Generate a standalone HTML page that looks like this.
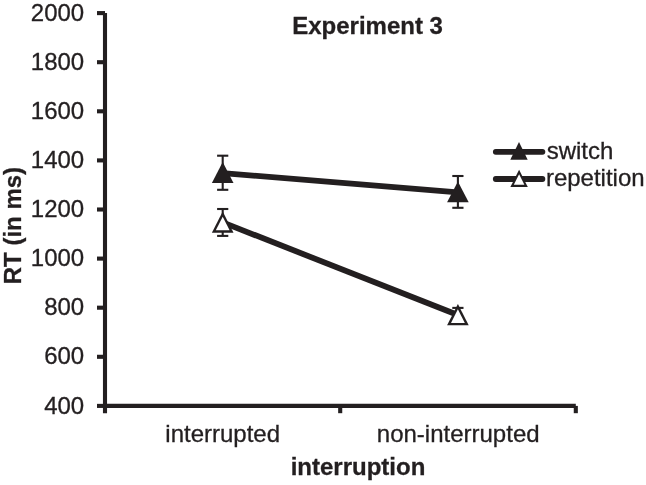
<!DOCTYPE html>
<html><head><meta charset="utf-8"><title>Experiment 3</title>
<style>
html,body{margin:0;padding:0;background:#fff;}
svg{display:block;}
.t{font-family:"Liberation Sans",Arial,sans-serif;font-size:24px;fill:#231f20;stroke:#231f20;stroke-width:0.3px;}
.b{font-weight:bold;}
.ax{stroke:#231f20;stroke-width:4.1;}
.eb{stroke:#231f20;stroke-width:2.1;}
.dl{stroke:#231f20;stroke-width:5.8;}
</style></head><body>
<svg width="646" height="485" viewBox="0 0 646 485">
<text x="84.2" y="20.70" text-anchor="end" class="t">2000</text>
<text x="84.2" y="69.80" text-anchor="end" class="t">1800</text>
<text x="84.2" y="118.90" text-anchor="end" class="t">1600</text>
<text x="84.2" y="168.00" text-anchor="end" class="t">1400</text>
<text x="84.2" y="217.10" text-anchor="end" class="t">1200</text>
<text x="84.2" y="266.20" text-anchor="end" class="t">1000</text>
<text x="84.2" y="315.30" text-anchor="end" class="t">800</text>
<text x="84.2" y="364.40" text-anchor="end" class="t">600</text>
<text x="84.2" y="413.50" text-anchor="end" class="t">400</text>
<line x1="97" y1="13.10" x2="105" y2="13.10" class="ax"/>
<line x1="97" y1="62.20" x2="105" y2="62.20" class="ax"/>
<line x1="97" y1="111.30" x2="105" y2="111.30" class="ax"/>
<line x1="97" y1="160.40" x2="105" y2="160.40" class="ax"/>
<line x1="97" y1="209.50" x2="105" y2="209.50" class="ax"/>
<line x1="97" y1="258.60" x2="105" y2="258.60" class="ax"/>
<line x1="97" y1="307.70" x2="105" y2="307.70" class="ax"/>
<line x1="97" y1="356.80" x2="105" y2="356.80" class="ax"/>
<line x1="97" y1="405.90" x2="105" y2="405.90" class="ax"/>
<line x1="105" y1="13.1" x2="105" y2="413.2" class="ax"/>
<line x1="105" y1="405.90" x2="575.8" y2="405.90" class="ax"/>
<line x1="340.2" y1="405.90" x2="340.2" y2="413.2" class="ax"/>
<line x1="575.8" y1="405.90" x2="575.8" y2="413.2" class="ax"/>
<line x1="222.7" y1="155.7" x2="222.7" y2="189.8" class="eb"/><line x1="217.1" y1="155.7" x2="228.3" y2="155.7" class="eb"/><line x1="217.1" y1="189.8" x2="228.3" y2="189.8" class="eb"/>
<line x1="457.9" y1="176.0" x2="457.9" y2="207.8" class="eb"/><line x1="452.3" y1="176.0" x2="463.5" y2="176.0" class="eb"/><line x1="452.3" y1="207.8" x2="463.5" y2="207.8" class="eb"/>
<line x1="222.7" y1="209.0" x2="222.7" y2="235.9" class="eb"/><line x1="217.1" y1="209.0" x2="228.3" y2="209.0" class="eb"/><line x1="217.1" y1="235.9" x2="228.3" y2="235.9" class="eb"/>
<line x1="457.9" y1="307.9" x2="457.9" y2="322.1" class="eb"/><line x1="452.3" y1="307.9" x2="463.5" y2="307.9" class="eb"/><line x1="452.3" y1="322.1" x2="463.5" y2="322.1" class="eb"/>
<line x1="222.7" y1="173.1" x2="457.9" y2="192.4" class="dl"/>
<line x1="222.7" y1="222.4" x2="457.9" y2="315.0" class="dl"/>
<polygon points="222.70,162.10 211.90,182.90 233.50,182.90" fill="#231f20"/>
<polygon points="457.90,181.40 447.10,202.20 468.70,202.20" fill="#231f20"/>
<polygon points="222.70,211.40 211.90,232.70 233.50,232.70" fill="#231f20"/><polygon points="222.70,216.71 215.81,230.30 229.59,230.30" fill="#fff"/>
<polygon points="457.90,304.00 447.10,325.30 468.70,325.30" fill="#231f20"/><polygon points="457.90,309.31 451.01,322.90 464.79,322.90" fill="#fff"/>
<line x1="495.8" y1="151.8" x2="542.4" y2="151.8" class="dl" stroke-linecap="round"/>
<line x1="495.8" y1="179.0" x2="542.4" y2="179.0" class="dl" stroke-linecap="round"/>
<polygon points="519.00,142.10 510.30,159.80 527.70,159.80" fill="#231f20"/>
<polygon points="519.10,169.70 510.40,186.90 527.80,186.90" fill="#231f20"/><polygon points="519.10,174.35 513.82,184.80 524.38,184.80" fill="#fff"/>
<text x="546.7" y="159.2" class="t">switch</text>
<text x="545.9" y="186.4" class="t">repetition</text>
<text x="292.2" y="33.5" class="t b">Experiment 3</text>
<text x="222.7" y="442.1" text-anchor="middle" class="t">interrupted</text>
<text x="458.2" y="442.1" text-anchor="middle" class="t">non-interrupted</text>
<text x="358" y="475.3" text-anchor="middle" class="t b">interruption</text>
<text transform="translate(20.5 225.6) rotate(-90)" text-anchor="middle" class="t b">RT (in ms)</text>
</svg>
</body></html>
